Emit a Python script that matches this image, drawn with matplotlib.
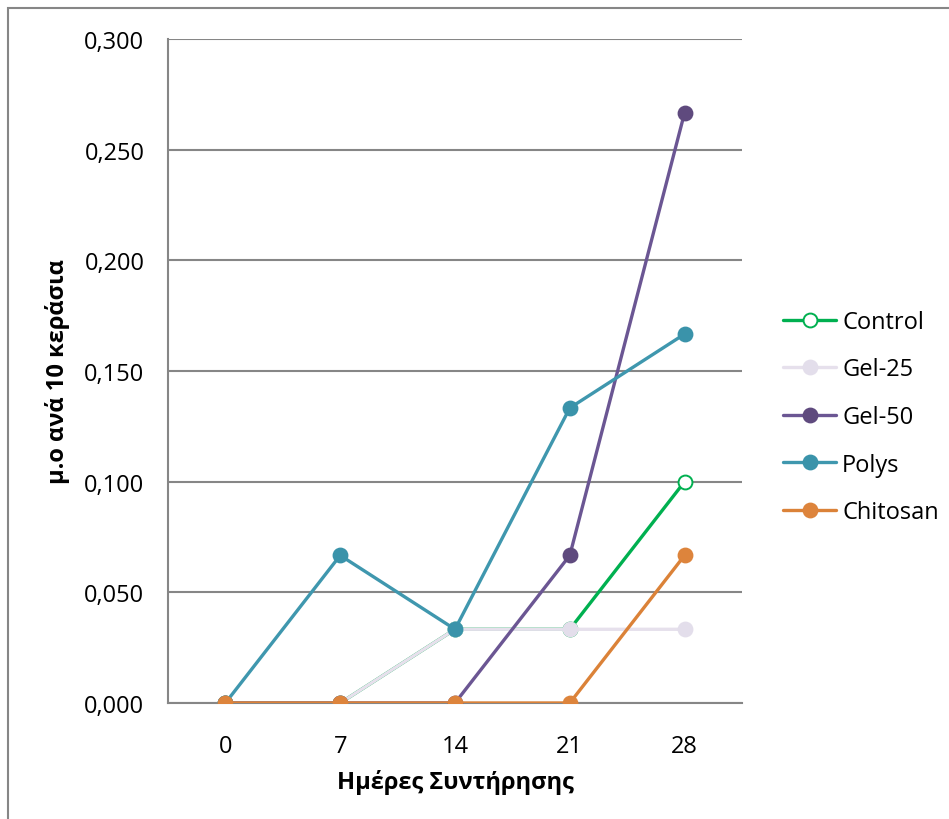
import matplotlib
matplotlib.use("Agg")
import matplotlib.pyplot as plt
from matplotlib.patches import Rectangle
from matplotlib.ticker import FixedLocator, FuncFormatter

plt.rcParams['font.family'] = ['Open Sans', 'DejaVu Sans']

days = ["0", "7", "14", "21", "28"]
control = [0.0, 0.0, 0.0333, 0.0333, 0.1]
gel25 = [0.0, 0.0, 0.0333, 0.0333, 0.0333]
gel50 = [0.0, 0.0, 0.0, 0.0667, 0.2667]
polys = [0.0, 0.0667, 0.0333, 0.1333, 0.1667]
chitosan = [0.0, 0.0, 0.0, 0.0, 0.0667]

W, H = 949, 820
fig = plt.figure(figsize=(W / 100, H / 100), dpi=100)
ax = fig.add_axes([168 / W, 1 - 704 / H, (742 - 168) / W, (704 - 40) / H])

grid_c = "#868686"
fs = 17

x = list(range(len(days)))
series = [
    ("Control", control, "#00B050", "white", "#00B050"),
    ("Gel-25", gel25, "#E6E0EC", "#E3DEEB", "#E3DEEB"),
    ("Gel-50", gel50, "#6B5693", "#5F4A7E", "#5F4A7E"),
    ("Polys", polys, "#3F97AE", "#3A93AA", "#3A93AA"),
    ("Chitosan", chitosan, "#DB8238", "#DD843C", "#DD843C"),
]
for name, vals, lc, mfc, mec in series:
    ax.plot(x, vals, color=lc, lw=2.4, marker="o", markersize=10,
            markerfacecolor=mfc, markeredgecolor=mec, markeredgewidth=1.4,
            label=name, solid_capstyle="round", zorder=3)

ax.set_xlim(-0.5, 4.5)
ax.set_ylim(0, 0.3)
ax.yaxis.set_major_locator(FixedLocator([0, 0.05, 0.1, 0.15, 0.2, 0.25, 0.3]))
ax.yaxis.set_major_formatter(FuncFormatter(lambda v, p: f"{v:.3f}".replace(".", ",")))
ax.set_xticks(x)
ax.set_xticklabels(days)
ax.tick_params(axis="both", length=0, labelsize=fs)
ax.tick_params(axis="y", pad=17)
ax.tick_params(axis="x", pad=22)
ax.grid(axis="y", color=grid_c, lw=1.5, zorder=0)
ax.set_axisbelow(True)
for s in ["top", "right"]:
    ax.spines[s].set_visible(False)
for s in ["left", "bottom"]:
    ax.spines[s].set_color(grid_c)
    ax.spines[s].set_linewidth(1.5)

ax.set_ylabel("μ.ο ανά 10 κεράσια", fontsize=fs, fontweight="bold", labelpad=10)
ax.set_xlabel("Ημέρες Συντήρησης", fontsize=fs, fontweight="bold", labelpad=8)

fig.legend(loc="center left", bbox_to_anchor=(783 / W, 1 - 418 / H), frameon=False,
           fontsize=fs, handlelength=2.25, handletextpad=0.25, labelspacing=1.0,
           borderaxespad=0, borderpad=0)

fig.patches.append(Rectangle((8 / W, -0.1), 2.0, (H - 9) / H + 0.1,
                             transform=fig.transFigure, fill=False,
                             edgecolor=grid_c, lw=1.5))

fig.savefig("out.png", dpi=100)
